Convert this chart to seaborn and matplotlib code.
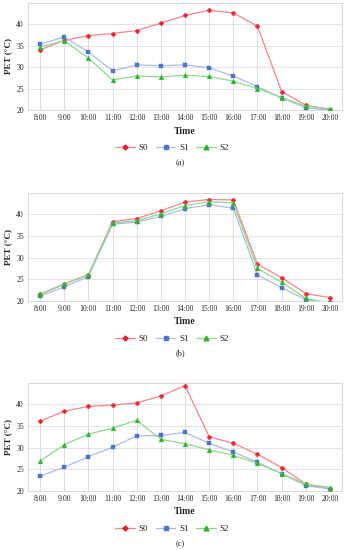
import matplotlib
matplotlib.use("Agg")
import matplotlib.pyplot as plt
import seaborn as sns
import numpy as np
import pandas as pd
from matplotlib.lines import Line2D

times = ["8:00", "9:00", "10:00", "11:00", "12:00", "13:00", "14:00",
         "15:00", "16:00", "17:00", "18:00", "19:00", "20:00"]
series_names = ["S0", "S1", "S2"]
panel_labels = ["(a)", "(b)", "(c)"]
y_ticks = [20, 25, 30, 35, 40]

a_S0 = [34.0, 36.2, 37.3, 37.8, 38.5, 40.2, 42.0, 43.2, 42.6, 39.5, 24.3, 21.1, 20.1]
a_S1 = [35.3, 37.0, 33.5, 29.1, 30.5, 30.3, 30.5, 29.8, 27.9, 25.4, 22.8, 20.5, 20.0]
a_S2 = [34.7, 36.1, 32.1, 27.0, 27.9, 27.7, 28.1, 27.8, 26.7, 25.0, 22.9, 20.9, 20.3]

b_S0 = [21.5, 23.9, 26.1, 38.3, 39.0, 40.8, 42.8, 43.4, 43.3, 28.5, 25.4, 21.7, 20.8]
b_S1 = [21.1, 23.3, 25.6, 37.7, 38.2, 39.5, 41.3, 42.2, 41.4, 26.0, 23.1, 20.3, 19.6]
b_S2 = [21.6, 24.0, 26.0, 38.0, 38.5, 40.1, 42.0, 42.9, 42.6, 27.5, 24.3, 20.6, 19.5]

c_S0 = [36.1, 38.4, 39.5, 39.8, 40.3, 41.9, 44.3, 32.5, 31.0, 28.5, 25.4, 21.6, 20.5]
c_S1 = [23.4, 25.5, 27.9, 30.1, 32.7, 32.8, 33.5, 31.0, 29.0, 26.6, 24.0, 21.2, 20.5]
c_S2 = [26.9, 30.7, 33.1, 34.5, 36.3, 31.9, 30.9, 29.5, 28.2, 26.4, 24.0, 21.6, 20.8]

panels = [(a_S0, a_S1, a_S2), (b_S0, b_S1, b_S2), (c_S0, c_S1, c_S2)]

line_colors = ["#F4858C", "#A9BCE6", "#8ED88E"]
marker_colors = ["#E8202E", "#4F74C8", "#2DB52D"]
markers = ["P", "s", "^"]
msizes = [3.2, 3.4, 3.4]

sns.set_theme(style="white")
plt.rcParams["font.family"] = ["Liberation Serif", "DejaVu Serif"]

W, H = 344, 550
fig = plt.figure(figsize=(W / 100, H / 100), dpi=100)

# (top, bottom) pixel positions of each plot area
boxes = [(3, 110), (193, 301), (383, 491)]
title_y = [131, 322, 512]
legend_y = [148, 339, 529]
label_y = [163, 353, 544]
x0, x1 = 28, 342

x = np.arange(len(times))
for p, (vals, (top, bot)) in enumerate(zip(panels, boxes)):
    ax = fig.add_axes([x0 / W, 1 - bot / H, (x1 - x0) / W, (bot - top) / H])
    ax.set_xlim(-0.5, len(times) - 0.5)
    ax.set_ylim(20, 44.9)
    # horizontal gridlines
    for yt in y_ticks[1:] + [45]:
        ax.axhline(yt, color="#E3E3E3", lw=0.7, zorder=0)
    # drop lines
    mx = np.max(np.array(vals), axis=0)
    ax.vlines(x, 20, mx, color="#DCDCDC", lw=0.7, zorder=1)
    df = pd.DataFrame({"x": np.tile(x, 3),
                       "y": np.concatenate(vals),
                       "s": np.repeat(series_names, len(x))})
    for i, name in enumerate(series_names):
        sub = df[df["s"] == name]
        sns.lineplot(data=sub, x="x", y="y", ax=ax, color=line_colors[i],
                     lw=0.9, marker=markers[i], markersize=msizes[i],
                     markerfacecolor=marker_colors[i],
                     markeredgecolor=marker_colors[i], markeredgewidth=0.3,
                     zorder=3 + i, legend=False)
    ax.set_xticks(x)
    ax.set_xticklabels(times, fontsize=5.5)
    ax.set_yticks(y_ticks)
    ax.set_yticklabels([str(v) for v in y_ticks], fontsize=5.5)
    ax.tick_params(axis="both", length=0, pad=3)
    ax.set_xlabel("")
    ax.set_ylabel("PET (°C)", fontsize=6.5, fontweight="bold", labelpad=3)
    for s in ax.spines.values():
        s.set_color("#D9D9D9")
        s.set_linewidth(0.7)
    ax.grid(False)
    fig.text(185 / W, 1 - title_y[p] / H, "Time", ha="center", va="center",
             fontsize=7, fontweight="bold")
    handles = [Line2D([0], [0], color=line_colors[i], lw=0.9, marker=markers[i],
                      markersize=msizes[i], markerfacecolor=marker_colors[i],
                      markeredgecolor=marker_colors[i])
               for i in range(3)]
    fig.legend(handles, series_names, loc="center",
               bbox_to_anchor=(172 / W, 1 - legend_y[p] / H), ncol=3,
               frameon=False, fontsize=6.5, handlelength=2.2,
               columnspacing=0.8, handletextpad=0.4)
    fig.text(180 / W, 1 - label_y[p] / H, panel_labels[p], ha="center",
             va="center", fontsize=6)

fig.savefig("out.png", dpi=100)
